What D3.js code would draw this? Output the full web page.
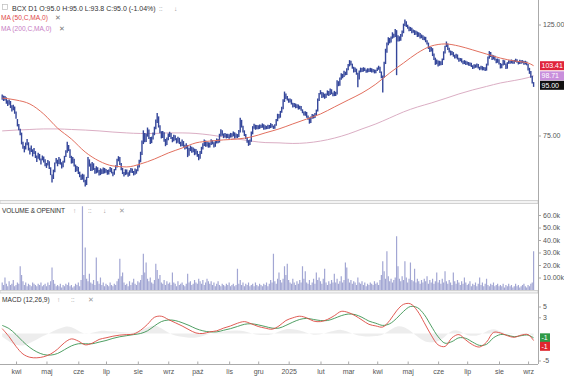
<!DOCTYPE html>
<html><head><meta charset="utf-8">
<script src="https://cdn.jsdelivr.net/npm/d3@7"></script>
<style>body{margin:0;background:#fff;}svg{display:block;font-family:"Liberation Sans",Arial,sans-serif;}</style>
</head><body><svg id="c" width="564" height="380"></svg>
<script>
// ---- DATA (daily bars from 2024-03-18, business days) ----
const highs=[90.6,90.1,90.0,89.4,88.2,88.5,87.9,86.2,86.4,85.7,
83.8,80.9,79.1,77.4,76.0,72.9,71.5,72.6,73.8,72.7,70.9,71.6,70.4,70.8,69.8,68.4,69.3,68.9,67.5,68.4,68.1,67.2,
66.1,67.0,66.6,64.8,62.7,64.1,66.2,67.6,67.1,67.9,67.4,66.3,66.8,68.3,70.1,72.9,71.8,70.4,68.3,67.9,67.4,65.6,65.2,
64.9,63.5,62.6,62.9,62.7,61.2,62.0,67.9,67.2,65.9,66.4,66.0,64.6,65.1,64.8,64.0,64.5,64.2,64.7,64.6,
64.3,64.0,64.1,64.9,64.6,63.5,64.3,65.4,67.4,68.2,67.9,66.1,64.6,63.4,64.2,64.1,63.3,63.9,64.6,64.4,63.7,64.4,64.2,
65.4,67.1,69.6,73.3,76.8,75.9,75.6,77.8,77.1,74.5,74.6,76.0,78.1,80.7,83.2,81.9,78.6,76.5,76.6,76.1,73.8,74.3,
75.7,76.3,75.9,74.5,75.3,75.1,74.1,74.6,74.2,72.9,73.6,73.1,71.9,72.4,71.8,70.8,71.6,71.2,71.0,70.6,70.5,
69.9,68.9,69.8,71.2,72.4,73.6,73.3,72.9,72.7,72.6,73.7,73.4,72.7,73.1,74.0,73.8,75.6,77.2,76.8,75.7,75.9,75.6,75.6,
75.4,75.9,75.8,76.4,76.1,75.7,75.5,76.9,81.4,80.6,78.4,76.8,75.5,74.3,73.4,73.6,76.4,78.3,79.2,78.8,78.7,
78.6,78.9,78.8,79.3,79.0,78.6,78.4,78.8,78.7,79.4,79.1,78.5,79.0,80.9,82.9,82.8,84.0,85.6,88.6,91.8,91.0,89.9,
88.9,88.9,88.6,87.2,87.1,86.9,86.6,86.5,86.0,85.9,84.6,83.8,83.9,83.6,82.2,81.5,81.9,82.8,82.6,83.2,84.5,88.9,91.2,
92.4,91.6,91.4,90.9,91.0,92.3,92.0,93.1,92.8,91.4,92.1,91.7,96.7,96.3,97.9,99.9,99.6,101.0,100.6,102.2,
104.2,106.1,105.8,104.4,102.9,102.5,102.0,100.1,101.2,102.5,102.3,102.7,102.4,101.6,102.2,102.1,102.4,102.2,101.9,101.6,101.5,
102.6,103.4,102.9,100.7,98.9,105.3,111.8,115.1,117.9,117.5,118.3,120.6,119.8,122.4,121.8,118.9,118.4,119.7,121.6,125.5,127.9,126.9,
124.9,123.9,123.6,123.1,122.2,121.8,121.5,121.0,120.6,120.2,119.4,119.0,118.3,118.1,116.2,115.0,112.9,112.7,112.1,109.4,107.3,106.4,
105.9,105.8,105.6,106.9,110.5,113.4,115.6,114.6,112.3,110.9,110.6,110.1,108.7,109.2,108.9,107.3,107.2,107.0,105.8,106.1,105.8,
105.4,105.2,105.0,104.8,103.6,104.1,104.0,104.5,104.2,102.9,103.4,103.2,102.8,102.7,104.4,107.9,110.6,110.2,108.7,108.5,108.2,106.8,106.9,
106.5,104.7,104.4,106.3,106.0,104.5,105.1,106.0,105.9,106.4,106.2,106.2,106.8,106.5,105.6,106.3,106.0,106.1,105.7,105.8,105.4,
104.2,102.4,100.9,98.7,95.9];
const lows=[88.4,87.9,88.1,86.8,85.9,86.4,85.1,83.8,84.2,82.9,
81.0,78.2,76.8,75.1,72.0,70.6,69.4,70.3,71.7,70.0,68.7,69.5,68.1,68.9,67.6,66.4,67.4,66.9,65.6,66.9,66.2,65.1,
64.6,65.3,64.3,62.5,60.4,61.4,63.3,65.9,65.1,65.8,65.6,64.4,64.8,66.2,67.9,69.3,69.8,67.6,65.9,66.0,65.0,63.4,63.6,
62.8,61.9,61.1,61.2,60.5,59.3,59.7,61.7,65.0,63.7,63.8,64.0,62.9,63.0,63.2,62.4,62.5,62.8,62.9,63.0,
63.2,62.6,62.7,63.4,63.0,62.2,62.6,63.9,64.7,66.6,65.5,63.9,62.8,62.1,62.5,62.7,62.0,62.3,63.2,63.1,62.4,62.6,62.9,
63.6,64.7,66.3,68.6,72.1,72.7,72.8,74.6,73.8,72.1,72.4,73.6,75.1,77.2,79.4,77.8,75.8,74.0,74.1,72.9,71.4,71.8,
73.4,74.5,73.8,72.7,73.0,73.4,72.3,72.5,72.1,71.3,71.5,71.2,70.3,70.6,67.9,68.3,69.8,69.3,69.4,68.5,68.7,
68.0,66.9,67.4,68.9,70.3,71.5,71.2,71.3,70.9,71.0,71.8,72.0,71.0,71.2,72.3,72.4,72.6,74.7,74.9,74.1,74.4,74.0,74.1,
73.9,74.3,74.4,74.7,74.0,74.2,74.1,74.5,76.0,77.8,76.0,74.8,73.8,72.5,71.5,71.8,72.9,75.4,77.4,77.0,77.2,
77.2,77.3,77.6,77.7,77.0,77.1,77.2,77.3,77.4,77.6,77.8,77.3,77.4,78.4,80.1,81.1,81.4,83.3,84.6,87.5,88.7,88.1,
87.2,87.3,86.5,85.3,85.5,85.0,85.1,84.5,84.6,84.0,83.1,82.2,82.1,81.4,80.6,79.2,79.4,81.0,81.1,81.3,82.4,83.8,87.9,
90.6,89.1,89.3,88.8,89.1,90.2,89.9,90.4,90.7,89.8,89.9,89.9,90.6,94.1,94.3,96.9,97.6,98.2,98.9,99.1,
101.3,103.1,103.6,102.0,100.2,100.4,99.2,93.6,97.0,100.3,100.5,100.6,100.9,100.1,100.2,100.4,100.5,100.2,100.3,99.8,99.9,
100.9,101.5,100.0,97.6,91.4,97.8,104.2,109.8,113.6,114.6,115.0,117.1,117.6,118.0,99.0,115.6,115.7,116.0,118.2,120.1,124.2,123.6,
122.6,121.2,121.3,120.1,120.4,119.1,119.3,118.0,118.1,117.2,117.3,116.4,116.2,115.2,114.0,111.7,110.1,110.4,108.1,106.2,103.8,104.1,
103.0,103.4,103.6,103.8,106.1,109.4,112.7,111.2,109.9,108.4,108.6,107.8,106.9,107.0,106.4,105.3,105.6,104.9,104.1,104.2,103.7,
103.9,103.4,103.3,102.8,101.9,102.1,102.4,102.5,102.1,101.3,101.6,101.2,101.3,100.9,101.1,103.5,106.8,107.6,106.2,106.4,105.9,104.6,104.8,
104.0,102.1,102.2,103.5,103.8,101.8,102.0,104.3,104.4,104.5,104.3,104.3,105.2,104.8,104.0,104.2,104.4,104.6,103.9,104.0,103.6,
101.2,99.6,97.8,95.3,93.8];
// daily volume, thousands
const volumesK=[6,4,10,5,3,7,4,5,8,3, 4,6,5,19,12,7,4,6,3,5, 4,3,6,5,4,3,5,4,6,3, 4,5,3,6,4,7,18,8,5,3,
4,3,5,2,4,3,5,4,6,3, 4,2,3,5,4,6,3,8,67,12, 34,9,7,13,6,5,8,4,26,7, 5,10,4,6,3,5,4,3,6,4,
3,5,4,7,9,25,11,14,6,4, 5,3,7,4,6,9,5,4,7,6, 8,12,29,14,22,9,7,10,6,5, 8,21,16,9,12,6,5,8,4,7,
5,6,4,14,6,5,3,7,4,5, 6,4,3,5,13,6,7,4,5,8, 6,5,9,7,5,8,4,6,9,7, 5,7,4,6,3,5,7,4,3,5,
4,3,5,4,6,3,4,5,3,4, 17,5,8,4,6,3,5,4,6,3, 4,5,3,6,4,3,5,4,3,5, 4,6,3,5,8,6,29,7,5,9,
14,8,6,9,19,12,21,8,6,5, 9,6,4,7,5,8,6,19,9,15, 6,5,8,4,6,9,5,14,8,10, 7,5,9,17,6,4,7,5,8,6,
13,6,9,5,7,11,6,8,22,18, 9,6,8,5,7,6,4,10,6,5, 7,4,6,3,5,4,6,5,4,7, 5,6,4,8,12,23,15,9,31,11,
7,9,6,8,10,43,19,9,7,11, 8,23,10,6,9,22,8,7,17,6, 9,7,5,8,6,9,7,11,5,8, 6,9,5,7,14,6,8,5,9,6,
15,7,5,8,6,4,14,7,5,8, 6,4,7,5,10,6,4,5,7,3, 5,4,6,3,5,10,4,6,3,5, 9,4,3,5,4,6,3,4,5,3,
4,3,5,2,4,3,5,3,4,2, 3,5,3,4,2,3,4,5,3,2, 4,3,5,6,31];
// moving averages sampled every 10 trading days (+ last day)
const ma50=[89.1,88.3,86.7,82.8,77.6,73.8,69.5,66.7,65.2,64.9,65.8,67.3,69.2,70.8,72.5,73.1,73.5,73.8,74.5,75.9,
77.3,79.1,80.9,82.8,85.5,88.3,91.2,95.0,100.0,104.7,109.6,113.2,114.3,113.2,111.2,109.1,107.1,105.7,104.7,103.41];
const ma200=[76.6,76.9,77.1,77.3,77.3,77.1,76.9,76.6,76.2,75.9,75.7,75.7,75.9,75.9,75.7,75.2,74.5,73.8,73.1,72.6,
72.5,72.3,72.5,73.1,74.1,75.5,77.3,79.1,81.3,83.6,85.5,87.1,88.9,90.8,92.5,94.0,95.5,96.6,97.9,98.71];
// MACD (12,26,9) sampled every 5 trading days (+ last day)
const macd=[0.9,-0.6,-2.4,-3.8,-4.4,-4.5,-4.3,-3.8,-2.9,-1.7,-1.0,-1.4,-2.1,-1.8,-1.1,-0.8,-0.5,-0.3,-0.2,-0.1,
0.6,1.7,3.0,3.2,2.6,2.0,1.4,0.7,0.1,0.0,0.3,0.5,1.0,1.4,1.9,2.2,1.8,1.3,1.0,0.8,
1.4,2.4,2.9,3.2,2.9,2.3,2.2,2.6,3.3,4.1,3.9,3.3,2.5,1.7,1.4,1.2,2.4,4.2,5.4,5.5,
4.2,2.0,-0.3,-2.1,-2.4,-0.8,-0.2,-1.2,-2.1,-2.5,-1.6,0.2,0.1,-0.4,-0.7,-0.3,-0.2,-1.3];
const signal=[1.5,0.9,-0.2,-1.5,-2.6,-3.4,-3.9,-4.0,-3.7,-3.0,-2.3,-1.9,-1.9,-1.9,-1.6,-1.3,-0.9,-0.6,-0.4,-0.2,
0.0,0.5,1.4,2.2,2.5,2.4,2.0,1.5,0.9,0.5,0.3,0.3,0.6,0.9,1.3,1.7,1.8,1.6,1.3,1.0,
1.0,1.5,2.1,2.6,2.8,2.6,2.4,2.4,2.8,3.3,3.6,3.5,3.0,2.3,1.9,1.5,1.8,2.8,4.1,5.0,
4.8,3.5,1.4,-0.6,-1.8,-1.5,-0.8,-0.9,-1.6,-2.2,-2.0,-0.8,-0.2,-0.3,-0.6,-0.4,-0.3,-0.8];
const monthLabels=["kwi","maj","cze","lip","sie","wrz","paź","lis","gru","2025","lut","mar","kwi","maj","cze","lip","sie","wrz"];
const priceTicks=[75,125];
const volTicks=[10000,20000,30000,40000,50000,60000];
const volTickLabels=["10.00k","20.0k","30.0k","40.0k","50.0k","60.0k"];
const macdTicks=[5,3,-5];
const lastBar={o:95.0,h:95.0,l:93.8,c:95.0,chg:-1.04};
const macdBoxes=[{v:-0.8,label:"-1",fill:"#2f9a47"},{v:-1.3,label:"-1",fill:"#e0262e"}];

// ---- dates (business days) ----
const N=highs.length;
const dates=[];{let d=new Date(2024,2,18);while(dates.length<N){if(d.getDay()%6!==0)dates.push(new Date(d));d.setDate(d.getDate()+1);}}

const svg=d3.select("#c");
const W=538;
const x=d3.scalePoint().domain(d3.range(N)).range([2.2,533.6]);
const yP=d3.scaleLog().domain([75,125]).range([135.5,24.5]);
const yV=d3.scaleLinear().domain([0,60000]).range([290,215]);
const yM=d3.scaleLinear().domain([-5,5]).range([360.5,306.5]);

const defs=svg.append("defs");
function clip(id,y,h){defs.append("clipPath").attr("id",id).append("rect").attr("x",0).attr("y",y).attr("width",W).attr("height",h);}
clip("cp",0,200);clip("cv",204,87);clip("cm",294,70);

// separators
svg.append("rect").attr("x",0).attr("y",200.5).attr("width",W).attr("height",3).attr("fill","#f3f3f3").attr("stroke","#c9c9c9").attr("stroke-width",0.8);
svg.append("rect").attr("x",0).attr("y",290.5).attr("width",W).attr("height",2.5).attr("fill","#f3f3f3").attr("stroke","#c9c9c9").attr("stroke-width",0.8);

function sampleIdx(step){const a=d3.range(0,N,step);if(a[a.length-1]!==N-1)a.push(N-1);return a;}
const maIdx=sampleIdx(10), mIdx=sampleIdx(5);

// price panel
const gP=svg.append("g").attr("clip-path","url(#cp)");
gP.append("path").datum(ma200).attr("fill","none").attr("stroke","#dbaec4").attr("stroke-width",1)
 .attr("d",d3.line().x((d,k)=>x(maIdx[k])).y(d=>yP(d)).curve(d3.curveMonotoneX));
gP.selectAll("line.bar").data(d3.range(N)).join("line").attr("class","bar")
 .attr("x1",i=>x(i)).attr("x2",i=>x(i)).attr("y1",i=>yP(highs[i])).attr("y2",i=>yP(lows[i]))
 .attr("stroke","#34469a").attr("stroke-width",1.4);
gP.append("path").datum(ma50).attr("fill","none").attr("stroke","#e2705f").attr("stroke-width",1)
 .attr("d",d3.line().x((d,k)=>x(maIdx[k])).y(d=>yP(d)).curve(d3.curveMonotoneX));

// volume panel
const gV=svg.append("g").attr("clip-path","url(#cv)");
gV.selectAll("line").data(d3.range(N)).join("line")
 .attr("x1",i=>x(i)).attr("x2",i=>x(i)).attr("y1",yV(0)).attr("y2",i=>yV(volumesK[i]*1000))
 .attr("stroke","#a2a6d3").attr("stroke-width",1.2);

// macd panel
const gM=svg.append("g").attr("clip-path","url(#cm)");
gM.append("path").datum(macd.map((m,k)=>m-signal[k])).attr("fill","#e6e6e6").attr("opacity",0.7)
 .attr("d",d3.area().x((d,k)=>x(mIdx[k])).y0(yM(0)).y1(d=>yM(d)).curve(d3.curveBasis));
gM.append("path").datum(signal).attr("fill","none").attr("stroke","#3c9452").attr("stroke-width",0.9)
 .attr("d",d3.line().x((d,k)=>x(mIdx[k])).y(d=>yM(d)).curve(d3.curveCatmullRom));
gM.append("path").datum(macd).attr("fill","none").attr("stroke","#dc4a42").attr("stroke-width",0.9)
 .attr("d",d3.line().x((d,k)=>x(mIdx[k])).y(d=>yM(d)).curve(d3.curveCatmullRom));

// right axes
svg.append("line").attr("x1",W+0.5).attr("x2",W+0.5).attr("y1",0).attr("y2",364).attr("stroke","#aaa");
function styleAxis(g){g.select(".domain").remove();g.selectAll("text").attr("fill","#555").attr("font-size","7px").attr("font-family","Liberation Sans, Arial, sans-serif");g.selectAll("line").attr("stroke","#aaa");}
svg.append("g").attr("transform",`translate(${W},0)`).call(d3.axisRight(yP).tickValues(priceTicks).tickFormat(d3.format(".2f")).tickSize(3).tickPadding(2)).call(styleAxis);
svg.append("g").attr("transform",`translate(${W},0)`).call(d3.axisRight(yV).tickValues(volTicks).tickFormat((d,i)=>volTickLabels[i]).tickSize(3).tickPadding(2)).call(styleAxis);
svg.append("g").attr("transform",`translate(${W},0)`).call(d3.axisRight(yM).tickValues(macdTicks).tickFormat(d=>d).tickSize(3).tickPadding(2)).call(styleAxis);

// bottom axis
const monthStarts=d3.range(1,N).filter(i=>dates[i].getMonth()!==dates[i-1].getMonth());
svg.append("line").attr("x1",0).attr("x2",W).attr("y1",364.5).attr("y2",364.5).attr("stroke","#aaa");
svg.append("g").attr("transform","translate(0,364.5)")
 .call(d3.axisBottom(x).tickValues(monthStarts).tickFormat((d,i)=>monthLabels[i]).tickSizeInner(-3).tickSizeOuter(0).tickPadding(5))
 .call(styleAxis);

// value boxes on the right
function boxes(items,minGap){
  items.forEach(d=>d.y=d.y0);
  for(let k=1;k<items.length;k++){if(items[k].y-items[k-1].y<minGap)items[k].y=items[k-1].y+minGap;}
  items.forEach(d=>{
    const w=d.w||24;
    svg.append("rect").attr("x",W+2).attr("y",d.y-4.5).attr("width",w).attr("height",9).attr("fill",d.fill);
    svg.append("text").attr("x",W+3.5).attr("y",d.y+2.5).attr("font-size","7px").attr("fill","#fff").text(d.label);
  });
}
boxes([
 {y0:yP(ma50[ma50.length-1]),label:ma50[ma50.length-1].toFixed(2),fill:"#e0243b"},
 {y0:yP(ma200[ma200.length-1]),label:ma200[ma200.length-1].toFixed(2),fill:"#c98fdc"},
 {y0:yP(lastBar.c),label:lastBar.c.toFixed(2),fill:"#111"}
],9.5);
boxes(macdBoxes.map(d=>({y0:yM(d.v),label:d.label,fill:d.fill,w:10})),8.5);

// titles
const t=svg.append("g").attr("font-size","6.6px");
t.append("rect").attr("x",2.5).attr("y",4.5).attr("width",5).attr("height",5).attr("fill","none").attr("stroke","#bbb").attr("stroke-width",0.7);
t.append("text").attr("x",12).attr("y",10.5).attr("fill","#333").attr("font-size","7px")
 .text(`BCX D1 O:${lastBar.o.toFixed(1)} H:${lastBar.h.toFixed(1)} L:${lastBar.l.toFixed(1)} C:${lastBar.c.toFixed(1)} (${lastBar.chg.toFixed(2)}%)`);
t.append("text").attr("x",159).attr("y",10.5).attr("fill","#999").text("::");
t.append("text").attr("x",174).attr("y",10.5).attr("fill","#999").text("↓");
t.append("text").attr("x",1).attr("y",20).attr("fill","#e04848").text("MA (50,C,MA,0)");
t.append("text").attr("x",55).attr("y",20).attr("fill","#777").text("✕");
t.append("text").attr("x",1).attr("y",31).attr("fill","#c77cc4").text("MA (200,C,MA,0)");
t.append("text").attr("x",59).attr("y",31).attr("fill","#777").text("✕");
t.append("text").attr("x",2).attr("y",213).attr("fill","#333").attr("textLength",63).text("VOLUME & OPENINT");
t.append("text").attr("x",73).attr("y",213).attr("fill","#999").text("↑");
t.append("text").attr("x",88).attr("y",213).attr("fill","#999").text("::");
t.append("text").attr("x",103).attr("y",213).attr("fill","#999").text("↓");
t.append("text").attr("x",119).attr("y",213).attr("fill","#999").text("✕");
t.append("text").attr("x",2).attr("y",302).attr("fill","#333").text("MACD (12,26,9)");
t.append("text").attr("x",57).attr("y",302).attr("fill","#999").text("↑");
t.append("text").attr("x",71).attr("y",302).attr("fill","#999").text("::");
t.append("text").attr("x",88).attr("y",302).attr("fill","#999").text("✕");
</script></body></html>
